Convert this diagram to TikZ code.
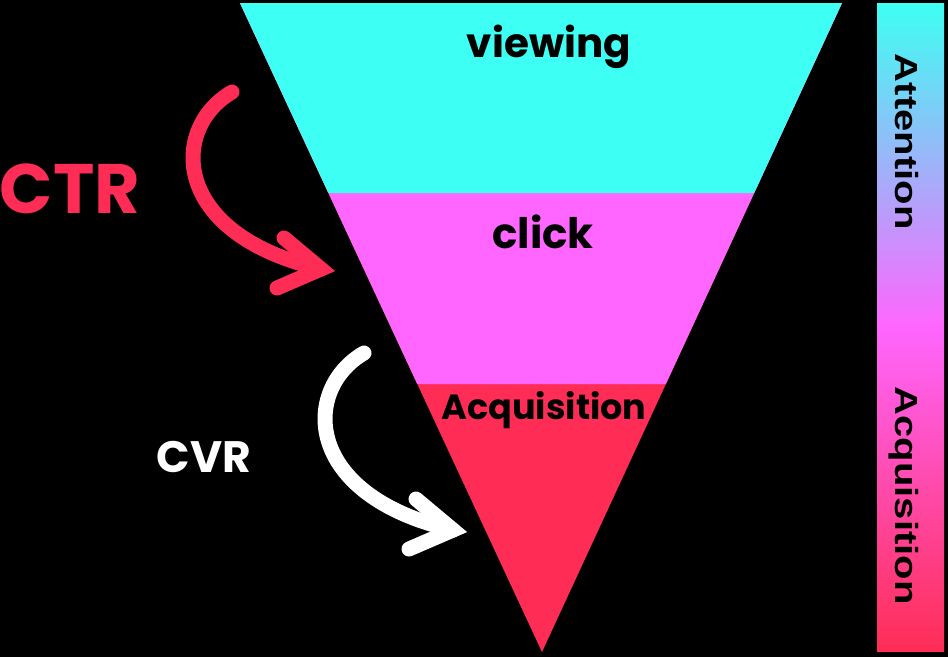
\documentclass[tikz,border=0pt]{standalone}
\usepackage{fontspec}
\usetikzlibrary{calc}
\newfontfamily\funnelfont{Poppins}
\newfontfamily\barfont{Liberation Sans}
\definecolor{funcyan}{HTML}{3DFFF3}
\definecolor{funpink}{HTML}{FF66FF}
\definecolor{funred}{HTML}{FF2D55}
\tikzset{
  stage/.style={font=\funnelfont\bfseries\fontsize{#1}{#1}\selectfont, text=black, inner sep=0pt, anchor=base},
  rate/.style={font=\funnelfont\bfseries\fontsize{#1}{#1}\selectfont, inner sep=0pt, anchor=base},
  barlabel/.style={font=\barfont\bfseries\fontsize{40}{40}\selectfont, text=black, inner sep=0pt, rotate=-90, anchor=base},
  swooshline/.style={line width=15pt, line cap=round},
  swoosh/.pic={
    \coordinate (-start) at (232,92);
    \coordinate (-tip) at (321,269);
    \coordinate (-armA) at (284,238);
    \coordinate (-armB) at (277,288);
    \draw[swooshline] (-start) .. controls (170,128) and (170,234) .. (-tip);
    \draw[swooshline, line join=miter] (-armA) -- (-tip) -- (-armB);
  }
}
\begin{document}
\begin{tikzpicture}[x=1pt, y=-1pt]
  % canvas
  \fill[black] (0,0) rectangle (948,657);
  \useasboundingbox (0,0) rectangle (948,657);

  % funnel corners
  \coordinate (tl) at (240,3);
  \coordinate (tr) at (842,3);
  \coordinate (apex) at (542,652);

  % funnel bands, widest first
  \fill[funred] (tl) -- (tr) -- (apex) -- cycle;
  \fill[funpink] (tl) -- (tr) -- ($(tr)!0.58706!(apex)$) -- ($(tl)!0.58706!(apex)$) -- cycle;
  \fill[funcyan] (tl) -- (tr) -- ($(tr)!0.29276!(apex)$) -- ($(tl)!0.29276!(apex)$) -- cycle;

  % stage labels
  \node[stage=40.5] (viewing) at (549,57) {viewing};
  \node[stage=42] (click) at (543,248) {click};
  \node[stage=35] (acq) at (544,419) {Acquisition};

  % conversion-rate labels and swoosh arrows
  \node[rate=70, text=funred] (ctr) at (70,213) {CTR};
  \node[rate=44, text=white] (cvr) at (204,472) {CVR};
  \pic[color=funred] (ctrarrow) at (0,0) {swoosh};
  \pic[color=white] (cvrarrow) at (132,261) {swoosh};

  % side gradient bar: cyan to pink to red
  \shade[top color=funcyan, bottom color=funred, middle color=funpink] (877,3) rectangle (944,651);
  \node[barlabel] (attention) at (895,141.7) {\scalebox{1}[0.8]{Attention}};
  \node[barlabel] (acquisition) at (895,495.7) {\scalebox{1}[0.8]{Acquisition}};
\end{tikzpicture}
\end{document}
